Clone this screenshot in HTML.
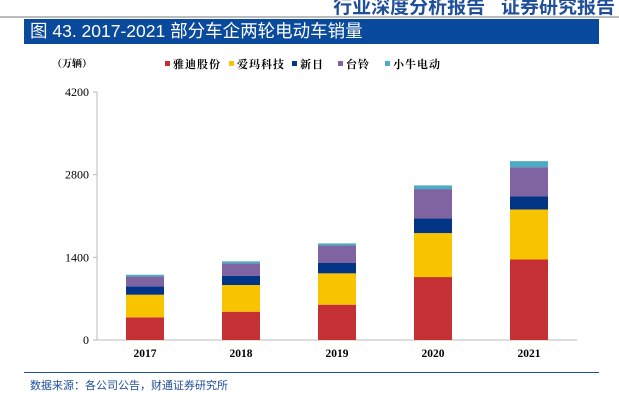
<!DOCTYPE html>
<html><head><meta charset="utf-8"><style>
body{margin:0;width:619px;height:417px;background:#fff;overflow:hidden;position:relative;font-family:"Liberation Sans","Noto Sans CJK SC",sans-serif}
.a{position:absolute}
</style></head><body>
<div class="a" style="right:4px;top:-8px;font-size:19px;font-weight:bold;color:#1f4e9a;white-space:nowrap">行业深度分析报告&nbsp;&nbsp;&nbsp;证券研究报告</div>
<div class="a" style="left:0;top:16px;width:619px;height:2px;background:#bbb"></div>
<div class="a" style="left:24px;top:19px;width:575px;height:25px;background:#0a4a9c;color:#fff;font-size:17.5px;line-height:25px;padding-left:6px;box-sizing:border-box">图 43. 2017-2021 部分车企两轮电动车销量</div>
<svg class="a" style="left:0;top:0" width="619" height="417">
<g id="legend" font-family="Liberation Serif,Noto Serif CJK SC,serif" font-size="11" font-weight="bold" letter-spacing="1"></g>
<text x="52" y="67" font-size="10" font-weight="bold" font-family="Liberation Serif,Noto Serif CJK SC,serif">（万辆）</text>
<g id="axes"></g><g id="bars"></g>
</svg>
<div class="a" style="left:24px;top:372px;width:575px;height:1px;background:#1f4e9a"></div>
<div class="a" style="left:30px;top:377px;font-size:11px;color:#1f4e9a">数据来源：各公司公告，财通证券研究所</div>
<script>
const categories=["2017","2018","2019","2020","2021"];
const seriesNames=["雅迪股份","爱玛科技","新日","台铃","小牛电动"];
const colors=["#c53034","#f8c400","#033586","#8064a2","#4bacc6"];
const yadea=[383,479,598,1066,1364];
const aima=[384,452,531,745,846];
const sunra=[141,158,175,248,220];
const tailg=[169,209,298,497,497];
const niu=[28,34,34,62,102];
const series=[yadea,aima,sunra,tailg,niu];
const yTicks=[0,1400,2800,4200];
const ns="http://www.w3.org/2000/svg";
const x0=97,x1=577,yBase=340,yTop=92,yMax=4200;
const y=v=>yBase-(v/yMax)*(yBase-yTop);
const band=(x1-x0)/categories.length;
const xc=i=>x0+band*(i+0.5);
function mk(t,a,p){const e=document.createElementNS(ns,t);for(const k in a)e.setAttribute(k,a[k]);p.appendChild(e);return e;}
const axes=document.getElementById('axes'),bars=document.getElementById('bars'),leg=document.getElementById('legend');
let l=mk('line',{x1:x0,x2:x0,y1:yTop,y2:yBase,stroke:'#bbb'},axes);


l=mk('line',{x1:x0,x2:x1,y1:yBase,y2:yBase,stroke:'#bbb'},axes);


yTicks.forEach(v=>{
 mk('line',{x1:x0-4,x2:x0,y1:y(v),y2:y(v),stroke:'#bbb'},axes);
 const t=mk('text',{x:x0-8,y:y(v)+4,'text-anchor':'end','font-size':12,'font-family':'Liberation Serif,serif'},axes);
 t.textContent=v;
 
 
});
categories.forEach((c,i)=>{
 const t=mk('text',{x:xc(i),y:yBase+17,'text-anchor':'middle','font-size':11.5,'font-weight':'bold','font-family':'Liberation Serif,serif'},axes);
 t.textContent=c;
 
 
 let acc=0;
 series.forEach((s,k)=>{
  const r=mk('rect',{x:xc(i)-19,width:38,y:y(acc+s[i]),height:y(acc)-y(acc+s[i]),fill:colors[k]},bars);
  
  
  acc+=s[i];
 });
});
const lx=[165,229,292,338,385];
seriesNames.forEach((n,k)=>{
 const r=mk('rect',{x:lx[k],y:61,width:5,height:5,fill:colors[k]},leg);
 
 
 const t=mk('text',{x:lx[k]+8,y:68},leg);
 t.textContent=n;
 
 
});
</script>
</body></html>
